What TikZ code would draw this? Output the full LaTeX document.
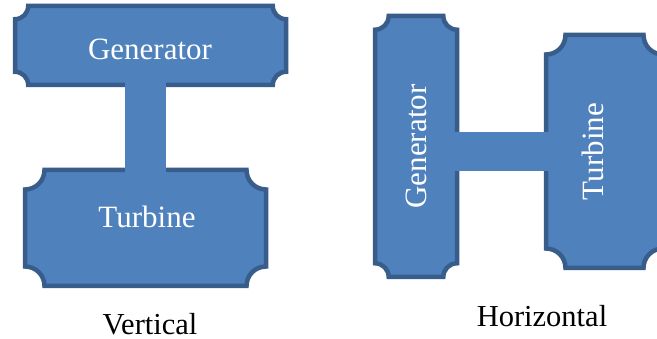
\documentclass[tikz,border=0pt]{standalone}
\usepackage{fontspec}
\setmainfont{Liberation Serif}
\definecolor{boxfill}{HTML}{4F81BD}
\definecolor{boxline}{HTML}{385D8A}
\tikzset{
  plaquebox/.style={fill=boxfill, draw=boxline, line width=4.5pt, line join=miter},
  shaft/.style={fill=boxfill, draw=none},
  boxlabel/.style={text=white, font=\fontsize{31}{36}\selectfont, inner sep=0pt},
  caption/.style={text=black, font=\fontsize{30.5}{36}\selectfont, inner sep=0pt}
}
% #1 x1, #2 y1 (top), #3 x2, #4 y2 (bottom), #5 corner radius; y grows downwards
\newcommand{\plaqueshape}[5]{%
  \draw[plaquebox] ({#1+#5},#2) -- ({#3-#5},#2)
    arc[start angle=180, end angle=90, radius=#5] -- (#3,{#4-#5})
    arc[start angle=270, end angle=180, radius=#5] -- ({#1+#5},#4)
    arc[start angle=360, end angle=270, radius=#5] -- (#1,{#2+#5})
    arc[start angle=90, end angle=0, radius=#5] -- cycle;%
}
\begin{document}
\begin{tikzpicture}[x=1pt, y=-1pt]
  \clip (0,0) rectangle (657,339);
  \fill[white] (0,0) rectangle (657,339);
  % Vertical arrangement
  \plaqueshape{15}{6}{286}{85}{13.2}
  \plaqueshape{25}{170}{266}{286}{19.5}
  \fill[shaft] (125,82) rectangle (166,173);
  \node[boxlabel] (vgen) at (150,49) {Generator};
  \node[boxlabel] (vtur) at (147,217) {Turbine};
  \node[caption] (vcap) at (150,324) {Vertical};
  % Horizontal arrangement
  \plaqueshape{375}{16}{457}{277}{13.7}
  \plaqueshape{546}{35}{663}{268}{19.5}
  \fill[shaft] (454,132) rectangle (549,171);
  \node[boxlabel, rotate=90] (hgen) at (416.5,146.5) {Generator};
  \node[boxlabel, rotate=90] (htur) at (592.5,151.5) {Turbine};
  \node[caption] (hcap) at (542,316) {Horizontal};
\end{tikzpicture}
\end{document}
